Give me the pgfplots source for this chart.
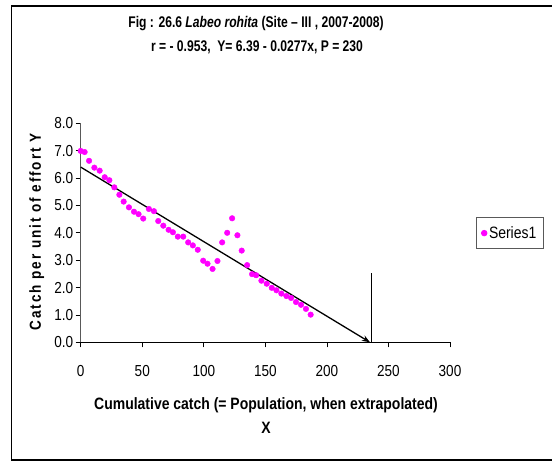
\documentclass[border=0pt]{standalone}
\usepackage{fontspec}
\setmainfont{Liberation Sans}[FakeStretch=0.85]
\newfontfamily\titlefont{Liberation Sans}[FakeStretch=0.785,Ligatures=TeX]
\usepackage{pgfplots}
\pgfplotsset{compat=1.18}
\usetikzlibrary{arrows.meta}
\definecolor{mag}{RGB}{255,0,255}
\begin{document}
\begin{tikzpicture}[x=1bp,y=1bp]
\useasboundingbox (0,0) rectangle (552,462);
\draw[line width=1.4bp] (11.7,2) rectangle (560,456);
\begin{axis}[
  at={(80.7bp,119.7bp)}, anchor=south west,
  scale only axis, width=369.3bp, height=219bp,
  xmin=0, xmax=300, ymin=0, ymax=8,
  axis x line=bottom, axis y line=left,
  axis line style={-, line width=0.8bp},
  y axis line style={gray!70!black},
  xtick={0,50,...,300}, ytick={0,1,...,8},
  tick align=outside, major tick length=5bp,
  tick style={black, line width=0.8bp},
  ticklabel style={font=\fontsize{16}{18}\selectfont},
  /pgf/number format/assume math mode=true,
  yticklabel={\pgfmathprintnumber[fixed,fixed zerofill,precision=1]{\tick}},
  yticklabel style={xshift=1bp},
  xticklabel style={yshift=-15bp},
  clip=false,
  legend style={at={(1.0704,0.572)}, anchor=north west, draw=gray!70!black, line width=0.8bp,
    font=\fontsize{16.5}{18}\selectfont, inner xsep=5bp, inner ysep=7bp},
  legend cell align=left,
]
\addplot[only marks, mark=*, mark size=2.8bp, mark options={draw=mag, fill=mag}] coordinates {
(0,6.99)(3.2,6.95)(6.8,6.63)(11.1,6.38)(15.4,6.27)(19.5,6.03)(23.3,5.92)(27.3,5.66)
(31.4,5.39)(34.9,5.14)(39.2,4.93)(43.3,4.77)(47.0,4.68)(50.8,4.52)(55.4,4.87)(59.5,4.79)
(63.0,4.43)(67.1,4.26)(71.4,4.11)(74.9,4.02)(78.9,3.86)(83.3,3.86)(87.3,3.65)(91.1,3.54)
(95.1,3.38)(99.5,2.98)(103.0,2.87)(107.1,2.68)(111.1,2.97)(114.9,3.65)(119.0,4.00)(123.0,4.53)
(127.3,3.91)(130.8,3.35)(135.2,2.82)(139.2,2.49)(142.5,2.45)(146.8,2.25)(151.1,2.14)(155.2,1.99)
(159.0,1.90)(163.0,1.78)(167.1,1.69)(170.9,1.62)(174.9,1.47)(179.0,1.37)(183.0,1.22)(186.8,1.01)
};
\addlegendentry{Series1}
\addplot[forget plot, black, line width=1.3bp, -{Stealth[length=8bp,width=6bp]}] coordinates {(0,6.4) (235,0)};
\addplot[forget plot, black, line width=0.8bp] coordinates {(235.8,0) (235.8,2.52)};
\end{axis}
\node[font=\titlefont\fontsize{15.5}{17}\selectfont\bfseries] at (256,438) {Fig : 26.6 \textit{Labeo rohita} (Site – III , 2007-2008)};
\node[font=\titlefont\fontsize{15.5}{17}\selectfont\bfseries] at (257,415) {r = - 0.953,\ \ Y= 6.39 - 0.0277x, P = 230};
\node[font=\fontsize{16.5}{18}\selectfont\bfseries] at (266,57) {Cumulative catch (= Population, when extrapolated)};
\node[font=\fontsize{16.5}{18}\selectfont\bfseries] at (266,34) {X};
\node[font=\fontsize{16}{18}\selectfont\bfseries\addfontfeature{LetterSpace=12}, rotate=90] at (36.7,230) {Catch per unit of effort Y};
\end{tikzpicture}
\end{document}
